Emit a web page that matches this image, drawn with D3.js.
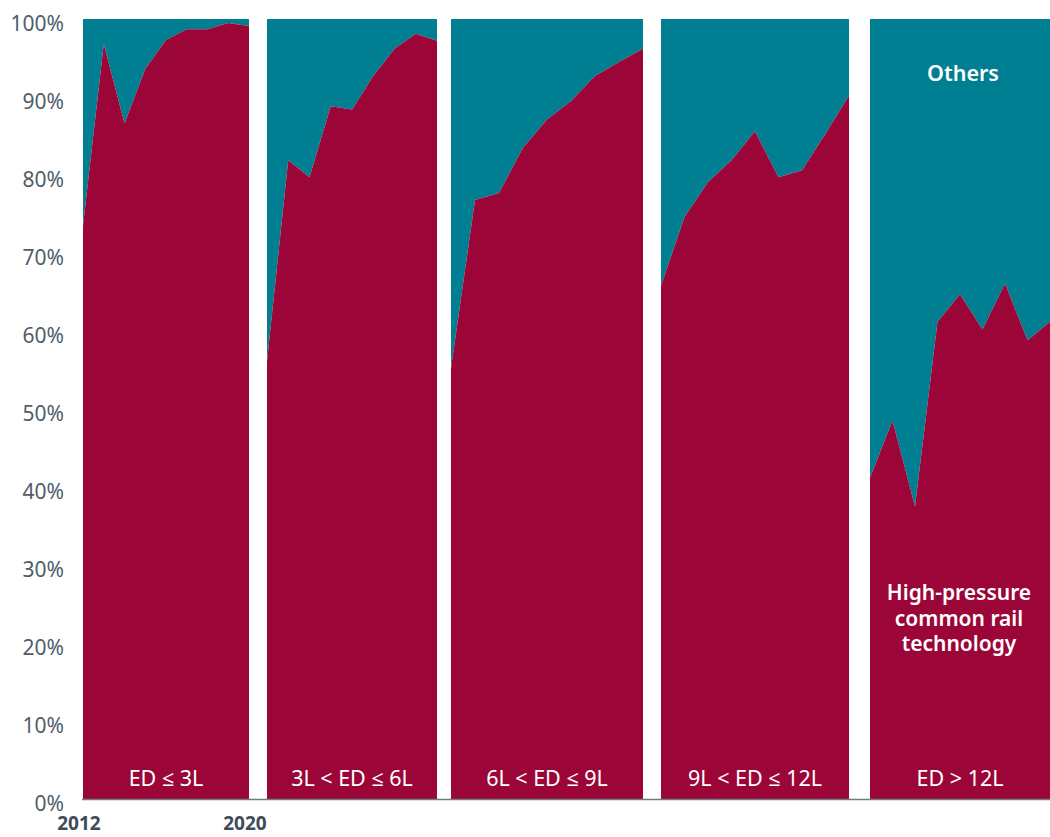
<!DOCTYPE html>
<html>
<head>
<meta charset="utf-8">
<script src="https://cdn.jsdelivr.net/npm/d3@7"></script>
<style>
  body { margin: 0; background: #fff; }
  svg { display: block; font-family: "Noto Sans", "Open Sans", sans-serif; }
</style>
</head>
<body>
<div id="chart"></div>
<script>
// données : part de la technologie common rail haute pression, par classe de cylindrée
const years = [2012, 2013, 2014, 2015, 2016, 2017, 2018, 2019, 2020];
const categories = ["ED ≤ 3L", "3L < ED ≤ 6L", "6L < ED ≤ 9L", "9L < ED ≤ 12L", "ED > 12L"];
const commonRail_ed3 = [73.5, 96.8, 86.6, 93.6, 97.3, 98.7, 98.7, 99.5, 99.1];
const commonRail_ed6 = [56.1, 81.9, 79.7, 88.8, 88.4, 92.7, 96.2, 98.1, 97.2];
const commonRail_ed9 = [55.2, 76.8, 77.7, 83.5, 87.1, 89.5, 92.7, 94.5, 96.2];
const commonRail_ed12 = [65.8, 74.6, 79.1, 81.9, 85.6, 79.7, 80.6, 85.3, 90.2];
const commonRail_edMax = [41.2, 48.5, 37.5, 61.2, 64.7, 60.2, 66.1, 58.8, 61.2];
const yTicks = [0, 10, 20, 30, 40, 50, 60, 70, 80, 90, 100];
const yearLabels = [2012, 2020];

const series = [commonRail_ed3, commonRail_ed6, commonRail_ed9, commonRail_ed12, commonRail_edMax];

const width = 1050, height = 837;
const rouge = "#9c0538", bleu = "#007e92", gris = "#4f5d69";

// cadre de chaque panneau (px)
const panneaux = [[83, 249], [267, 437], [451, 643], [661, 849], [870, 1050]];

const svg = d3.select("#chart").append("svg")
    .attr("width", width)
    .attr("height", height);

const y = d3.scaleLinear().domain([0, 100]).range([799, 19]);

// axe vertical
svg.append("g").selectAll("text")
    .data(yTicks)
    .join("text")
    .attr("x", 64)
    .attr("y", d => y(d) + 6)
    .attr("text-anchor", "end")
    .attr("dominant-baseline", "middle")
    .attr("font-size", 21)
    .attr("fill", gris)
    .text(d => d + "%");

series.forEach(function(valeurs, i) {
    const x = d3.scaleLinear().domain([years[0], years[years.length - 1]]).range(panneaux[i]);
    const pts = years.map((an, k) => ({an: an, v: valeurs[k]}));
    const g = svg.append("g");

    // autres : du haut de la courbe jusqu'à 100 %
    g.append("path")
        .datum(pts)
        .attr("fill", bleu)
        .attr("d", d3.area().x(d => x(d.an)).y0(y(100)).y1(d => y(d.v)));

    g.append("path")
        .datum(pts)
        .attr("fill", rouge)
        .attr("d", d3.area().x(d => x(d.an)).y0(y(0)).y1(d => y(d.v)));

    g.append("text")
        .attr("x", (panneaux[i][0] + panneaux[i][1]) / 2)
        .attr("y", 780)
        .attr("text-anchor", "middle")
        .attr("dominant-baseline", "middle")
        .attr("font-size", 21.5)
        .attr("fill", "#fff")
        .text(categories[i]);

    if (i === 0) {
        svg.append("g").selectAll("text")
            .data(yearLabels)
            .join("text")
            .attr("x", d => x(d) - 4)
            .attr("y", 830)
            .attr("text-anchor", "middle")
            .attr("font-size", 19)
            .attr("font-weight", "bold")
            .attr("fill", "#3e4c58")
            .text(d => d);
    }
});

// ligne de base
svg.append("line")
    .attr("x1", 82).attr("x2", width)
    .attr("y1", y(0) + 0.5).attr("y2", y(0) + 0.5)
    .attr("stroke", "#6e7c87")
    .attr("stroke-width", 1.5);

// légendes dans le dernier panneau
const cx = (panneaux[4][0] + panneaux[4][1]) / 2 - 1;
svg.append("text")
    .attr("x", cx + 4).attr("y", 75)
    .attr("text-anchor", "middle")
    .attr("dominant-baseline", "middle")
    .attr("font-size", 21.5)
    .attr("font-weight", 600)
    .attr("fill", "#fff")
    .text("Others");

svg.append("text")
    .attr("text-anchor", "middle")
    .attr("font-size", 21)
    .attr("font-weight", 600)
    .attr("fill", "#fff")
    .selectAll("tspan")
    .data(["High-pressure", "common rail", "technology"])
    .join("tspan")
    .attr("x", cx)
    .attr("y", (d, k) => 600 + k * 25.5)
    .text(d => d);
</script>
</body>
</html>
